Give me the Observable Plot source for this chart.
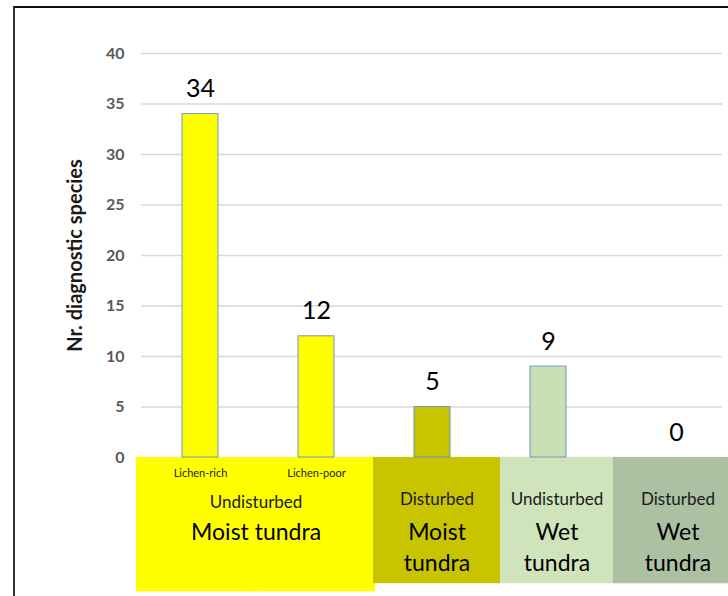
<!DOCTYPE html>
<html>
<head>
<meta charset="utf-8">
<script src="https://cdn.jsdelivr.net/npm/d3@7"></script>
<script src="https://cdn.jsdelivr.net/npm/@observablehq/plot@0.6"></script>
<style>
  html, body { margin: 0; padding: 0; background: #fff; }
  #wrap { position: relative; width: 728px; height: 596px; overflow: hidden; }
  #frame { position: absolute; left: 13px; top: 6px; right: -10px; bottom: -10px;
           border-left: 2px solid #333; border-top: 2px solid #111; pointer-events: none; }
  svg { font-family: Lato, "Open Sans", sans-serif; }
</style>
</head>
<body>
<div id="wrap"><div id="frame"></div></div>
<script>
// ---- data ----
const categories = ["Lichen-rich", "Lichen-poor", "Disturbed moist", "Undisturbed wet", "Disturbed wet"];
const values = [34, 12, 5, 9, 0];
const subLabels = ["Lichen-rich", "Lichen-poor", "", "", ""];
const groupConditions = ["Undisturbed", "Disturbed", "Undisturbed", "Disturbed"];
const groupHabitats = ["Moist tundra", "Moist\ntundra", "Wet\ntundra", "Wet\ntundra"];
const groupMembers = [[0, 1], [2], [3], [4]];
const yTicks = [0, 5, 10, 15, 20, 25, 30, 35, 40];
const yTitle = "Nr. diagnostic species";

// ---- styles ----
const barColors = ["#FFFF00", "#FFFF00", "#C8C400", "#C8E0B4", "#ABC1A2"];
const boxColors = ["#FFFF00", "#C8C400", "#D0E4BC", "#ABC1A2"];
const boxInsetL = [-6, -1, 10, 7];
const boxInsetR = [-1, -10, -7, -6];
const boxDepth = [-13.3, -12.5, -12.5, -12.5];
const condDy = [45, 42, 42, 42];

const W = 728, H = 596, mL = 141, mR = 6, mT = 53;
const step = (W - mL - mR) / categories.length;

const bars = categories.map((c, i) => ({cat: c, value: values[i], fill: barColors[i], sub: subLabels[i]}));

const yMax = d3.max(yTicks);
const pxPerUnit = (457 - mT) / yMax;
const yMin = yMax - (H - mT) / pxPerUnit;

const groupMarks = [];
groupMembers.forEach((members, g) => {
  const rows = members.map(m => ({cat: categories[m]}));
  groupMarks.push(Plot.barY(rows, {x: "cat", y1: 0, y2: boxDepth[g], fill: boxColors[g],
    insetLeft: boxInsetL[g], insetRight: boxInsetR[g]}));
});
groupMembers.forEach((members, g) => {
  const first = categories[members[0]];
  const dx = (members.length - 1) * step / 2 + (boxInsetL[g] - boxInsetR[g]) / 2 + (g === 3 ? 7 : 0);
  groupMarks.push(Plot.text([groupConditions[g]], {x: () => first, y: () => 0, text: d => d, dx, dy: condDy[g],
    fontSize: 17, fill: "#1a1a1a"}));
  const lines = groupHabitats[g].split("\n");
  lines.forEach((line, i) => {
    groupMarks.push(Plot.text([line], {x: () => first, y: () => 0, text: d => d, dx, dy: 75 + 31 * i,
      fontSize: 23, fill: "#000"}));
  });
});

const chart = Plot.plot({
  width: W, height: H,
  marginLeft: mL, marginRight: mR, marginTop: mT, marginBottom: 0,
  x: {domain: categories, padding: 0, axis: null},
  y: {domain: [yMin, yMax], axis: null},
  marks: [
    Plot.gridY(yTicks, {stroke: "#d9d9d9", strokeOpacity: 1, strokeWidth: 1.5}),
    ...groupMarks,
    Plot.barY(bars.filter(d => d.value > 0), {x: "cat", y: "value", fill: "fill", stroke: "#7394c8", strokeWidth: 1, insetLeft: 40, insetRight: 40}),
    Plot.text(bars.filter(d => d.value > 0), {x: "cat", y: "value", text: d => String(d.value), dy: -25, fontSize: 25, fill: "#000"}),
    Plot.text(bars.filter(d => d.value === 0), {x: "cat", y: "value", text: d => String(d.value), dy: -25, dx: 12, fontSize: 25, fill: "#000"}),
    Plot.text(bars.filter(d => d.sub), {x: "cat", y: 0, text: "sub", dy: 16, fontSize: 11, fill: "#222"}),
    Plot.axisY(yTicks, {anchor: "left", tickSize: 0, tickPadding: 17, fontSize: 16, fontWeight: "bold", fill: "#595959", label: null}),
    Plot.text([yTitle], {frameAnchor: "left", y: yMax / 2, dx: -66, rotate: -90, textAnchor: "middle", fontSize: 20, fontWeight: "bold", fill: "#1a1a1a"})
  ]
});
document.getElementById("wrap").prepend(chart);
</script>
</body>
</html>
